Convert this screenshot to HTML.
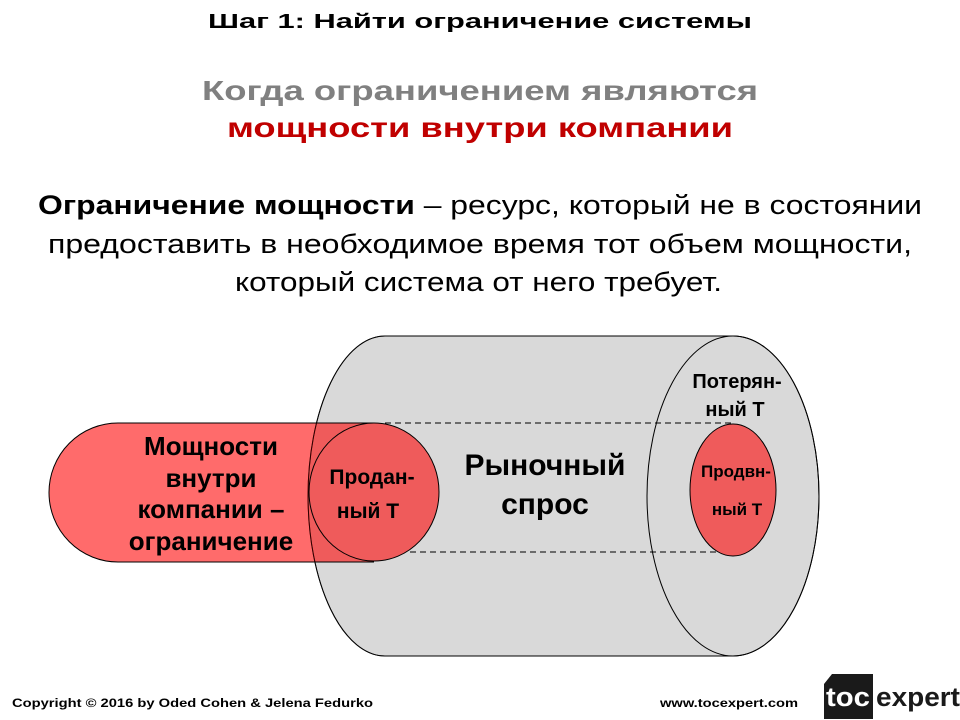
<!DOCTYPE html>
<html><head><meta charset="utf-8"><style>
html,body{margin:0;padding:0;background:#fff;}
svg{display:block;}
text{font-family:"Liberation Sans",Arial,sans-serif;}
</style></head><body>
<svg width="960" height="720" viewBox="0 0 960 720" xmlns="http://www.w3.org/2000/svg">
<text x="480" y="28" text-anchor="middle" font-size="20" font-weight="bold" textLength="544" lengthAdjust="spacingAndGlyphs">Шаг 1: Найти ограничение системы</text>
<text x="480" y="100" text-anchor="middle" font-size="28" font-weight="bold" fill="#808080" textLength="556" lengthAdjust="spacingAndGlyphs">Когда ограничением являются</text>
<text x="480" y="137" text-anchor="middle" font-size="28" font-weight="bold" fill="#c00000" textLength="506" lengthAdjust="spacingAndGlyphs">мощности внутри компании</text>
<text x="38" y="214" font-size="27" textLength="884" lengthAdjust="spacingAndGlyphs"><tspan font-weight="bold">Ограничение мощности</tspan> – ресурс, который не в состоянии</text>
<text x="48" y="253" font-size="27" textLength="864" lengthAdjust="spacingAndGlyphs">предоставить в необходимое время тот объем мощности,</text>
<text x="235" y="291" font-size="27" textLength="487" lengthAdjust="spacingAndGlyphs">который система от него требует.</text>

<path d="M385,336 L733,336 A86,160 0 0 1 733,656 L385,656 A77,160 0 0 1 385,336 Z" fill="#d9d9d9" stroke="#000" stroke-width="1"/>
<ellipse cx="733" cy="496" rx="86" ry="160" fill="none" stroke="#000" stroke-width="1"/>
<line x1="385" y1="423" x2="733" y2="423" stroke="#000" stroke-dasharray="6,4"/>
<line x1="370" y1="552" x2="733" y2="552" stroke="#000" stroke-dasharray="6,4"/>
<path d="M118,423 L374,423 L374,562 L118,562 A69,69.5 0 0 1 118,423 Z" fill="rgba(255,0,0,0.58)" stroke="none"/>
<path d="M374,423 L118,423 A69,69.5 0 0 0 118,562 L374,562" fill="none" stroke="#000" stroke-width="1"/>
<ellipse cx="374" cy="492" rx="65" ry="69" fill="#ef5b5b" stroke="#000" stroke-width="1"/>
<path d="M385,336 A77,160 0 0 0 385,656" fill="none" stroke="#000" stroke-width="1" opacity="0.7"/>
<ellipse cx="733" cy="490" rx="43" ry="66" fill="#ef5b5b" stroke="#000" stroke-width="1"/>

<g font-weight="bold" text-anchor="middle">
<text x="211" y="455" font-size="26">Мощности</text>
<text x="211" y="487" font-size="26">внутри</text>
<text x="211" y="518" font-size="26">компании –</text>
<text x="211" y="550" font-size="26">ограничение</text>
<text x="372" y="484" font-size="21">Продан-</text>
<text x="368" y="518" font-size="21">ный Т</text>
<text x="545" y="475" font-size="30">Рыночный</text>
<text x="545" y="514" font-size="30">спрос</text>
<text x="737" y="388" font-size="20">Потерян-</text>
<text x="735" y="416" font-size="20">ный Т</text>
<text x="736" y="477" font-size="17">Продвн-</text>
<text x="737" y="515" font-size="17">ный Т</text>
</g>

<text x="12" y="707" font-size="12" font-weight="bold" textLength="361" lengthAdjust="spacingAndGlyphs">Copyright © 2016 by Oded Cohen &amp; Jelena Fedurko</text>
<text x="660" y="707" font-size="12" font-weight="bold" textLength="138" lengthAdjust="spacingAndGlyphs">www.tocexpert.com</text>
<polygon points="832,674 873,674 873,719 824,719 824,684" fill="#1a1a1a"/>
<text x="826" y="706" font-size="27" font-weight="bold" fill="#fff" textLength="44" lengthAdjust="spacingAndGlyphs">toc</text>
<text x="876" y="706" font-size="27" font-weight="bold" fill="#1a1a1a" textLength="84" lengthAdjust="spacingAndGlyphs">expert</text>
</svg>
</body></html>
